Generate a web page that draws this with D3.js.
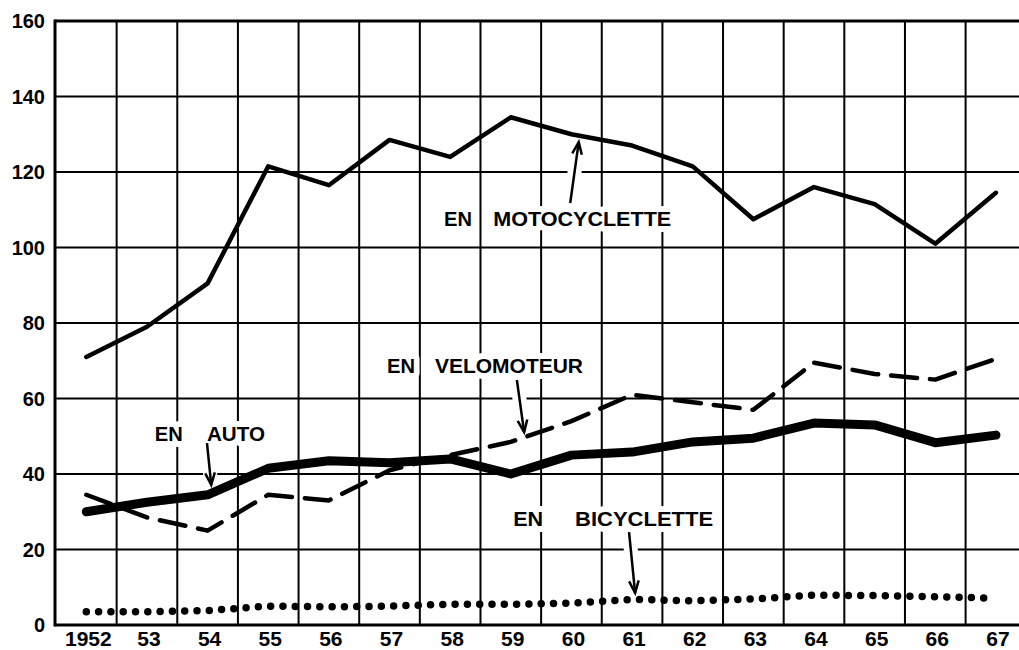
<!DOCTYPE html>
<html>
<head>
<meta charset="utf-8">
<script src="https://cdn.jsdelivr.net/npm/d3@7"></script>
<style>
	html, body { margin: 0; padding: 0; background: #fff; }
	svg { display: block; }
	text { font-family: "Liberation Sans", Arial, sans-serif; font-weight: bold; fill: #000; }
</style>
</head>
<body>
<div id="chart"></div>
<script>

// Data (index per year)
var years = [1952, 1953, 1954, 1955, 1956, 1957, 1958, 1959, 1960, 1961, 1962, 1963, 1964, 1965, 1966, 1967];
var yearLabels = ['1952', '53', '54', '55', '56', '57', '58', '59', '60', '61', '62', '63', '64', '65', '66', '67'];
var yTicks = [0, 20, 40, 60, 80, 100, 120, 140, 160];

var motocyclette = [71, 79, 90.5, 121.5, 116.5, 128.5, 124, 134.5, 130, 127, 121.5, 107.5, 116, 111.5, 101, 114.5];
var velomoteur = [34.5, 28.5, 25, 34.5, 33, 41, 45, 48.5, 54, 61, 59, 57, 69.5, 66.5, 65, 70.5];
var auto = [30, 32.5, 34.5, 41.5, 43.5, 43, 44, 40, 45, 45.8, 48.5, 49.5, 53.5, 53, 48.3, 50.3];
var bicyclette = [3.5, 3.5, 3.8, 5, 4.8, 5, 5.5, 5.5, 5.8, 6.8, 6.4, 6.9, 7.9, 7.8, 7.5, 7.1];

var labels = ['MOTOCYCLETTE', 'VELOMOTEUR', 'AUTO', 'BICYCLETTE'];


var chartW = 1019, chartH = 650;
var plotLeft = 56, plotTop = 21, plotBottom = 625, colW = 60.64;

var svg = d3.select('#chart').append('svg')
	.attr('width', chartW)
	.attr('height', chartH);

var x = d3.scaleLinear()
	.domain([1951.5, 1967.5])
	.range([plotLeft, plotLeft + 16 * colW]);

var y = d3.scaleLinear()
	.domain([0, 160])
	.range([plotBottom, plotTop]);


/* Grid */
var grid = svg.append('g').attr('stroke', '#000');

grid.selectAll('line.h')
	.data(yTicks)
	.enter()
	.append('line')
	.attr('class', 'h')
	.attr('x1', plotLeft - 1).attr('x2', chartW)
	.attr('y1', (d) => y(d)).attr('y2', (d) => y(d))
	.attr('stroke-width', (d) => (d === 0 || d === 160) ? 3 : 2);

grid.selectAll('line.v')
	.data(years.slice(1))
	.enter()
	.append('line')
	.attr('class', 'v')
	.attr('x1', (d) => x(d - 0.5)).attr('x2', (d) => x(d - 0.5))
	.attr('y1', y(160)).attr('y2', y(0))
	.attr('stroke-width', 2);

// left axis
grid.append('line')
	.attr('x1', plotLeft - 1).attr('x2', plotLeft - 1)
	.attr('y1', y(160) - 1.5).attr('y2', y(0) + 1.5)
	.attr('stroke-width', 3);

// tick labels
svg.append('g').selectAll('text')
	.data(yTicks)
	.enter()
	.append('text')
	.attr('x', 45)
	.attr('y', (d) => y(d))
	.attr('dy', '0.36em')
	.attr('text-anchor', 'end')
	.style('font-size', '20px')
	.text((d) => d);

svg.append('g').selectAll('text')
	.data(years)
	.enter()
	.append('text')
	.attr('x', (d) => x(d) + 2)
	.attr('y', 646)
	.attr('text-anchor', 'middle')
	.style('font-size', '21px')
	.text((d, i) => yearLabels[i]);


/* Annotations: word label + arrow, placed in data units */
var notes = [
	{ word: labels[0], en: [1957.9, 105.7], at: 1958.71, enW: 28, wordW: 178, from: [1959.98, 111.8], to: [1960.12, 127.9] },
	{ word: labels[1], en: [1956.96, 66.75], at: 1957.75, enW: 28, wordW: 148, from: [1959.1, 64.9], to: [1959.22, 51.1] },
	{ word: labels[2], en: [1953.13, 48.7], at: 1953.99, enW: 28, wordW: 58, from: [1953.99, 48.2], to: [1954.06, 37.1] },
	{ word: labels[3], en: [1959.04, 26.2], at: 1960.06, enW: 30, wordW: 138, from: [1960.95, 24.6], to: [1961.05, 8.5] }
];

var ann = svg.append('g');

notes.forEach((n) => {

	var x1 = x(n.from[0]), y1 = y(n.from[1]);
	var x2 = x(n.to[0]), y2 = y(n.to[1]);
	var ang = Math.atan2(y2 - y1, x2 - x1);
	var hl = 13, ha = 0.38;
	var head = [
		[x2 - hl * Math.cos(ang - ha), y2 - hl * Math.sin(ang - ha)],
		[x2, y2],
		[x2 - hl * Math.cos(ang + ha), y2 - hl * Math.sin(ang + ha)]
	];

	// white halo so grid lines break around arrow
	ann.append('line')
		.attr('x1', x1).attr('y1', y1)
		.attr('x2', x2 - 8 * Math.cos(ang)).attr('y2', y2 - 8 * Math.sin(ang))
		.attr('stroke', '#fff').attr('stroke-width', 14);

	[['EN', n.en[0], n.enW], [n.word, n.at, n.wordW]].forEach((t) => {
		ann.append('text')
			.attr('x', x(t[1]))
			.attr('y', y(n.en[1]))
			.attr('textLength', t[2])
			.attr('lengthAdjust', 'spacingAndGlyphs')
			.style('font-size', '21px')
			.style('paint-order', 'stroke')
			.attr('stroke', '#fff')
			.attr('stroke-width', 12)
			.attr('stroke-linejoin', 'round')
			.text(t[0]);
	});

	ann.append('line')
		.attr('x1', x1).attr('y1', y1).attr('x2', x2).attr('y2', y2)
		.attr('stroke', '#000').attr('stroke-width', 2.5);

	ann.append('path')
		.attr('d', d3.line()(head))
		.attr('fill', 'none')
		.attr('stroke', '#000')
		.attr('stroke-width', 2.5);
});


/* Series */
var series = [
	{ values: bicyclette, width: 7.5, dash: '0 12.3' },
	{ values: velomoteur, width: 4.5, dash: '26 13' },
	{ values: motocyclette, width: 4.5, dash: null },
	{ values: auto, width: 9, dash: null }
];

var line = d3.line()
	.x((d, i) => x(years[i]))
	.y((d) => y(d));

svg.append('g').selectAll('path')
	.data(series)
	.enter()
	.append('path')
	.attr('d', (d) => line(d.values))
	.attr('fill', 'none')
	.attr('stroke', '#000')
	.attr('stroke-width', (d) => d.width)
	.attr('stroke-linecap', 'round')
	.attr('stroke-linejoin', 'round')
	.attr('stroke-dasharray', (d) => d.dash);

</script>
</body>
</html>
